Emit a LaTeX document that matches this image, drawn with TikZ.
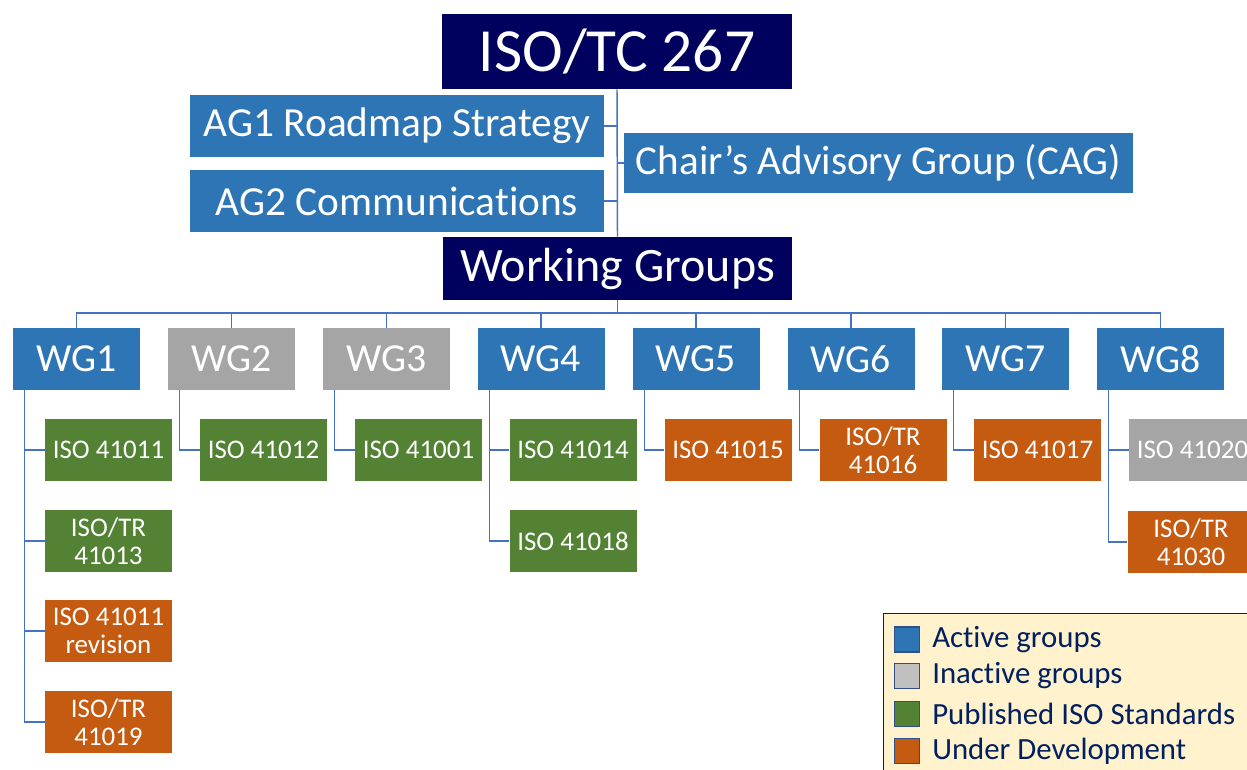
\documentclass[tikz,border=0pt]{standalone}
\usepackage{fontspec}
\setmainfont[Ligatures=NoCommon]{Carlito}
\definecolor{cblue}{HTML}{2E75B6}
\definecolor{cgrey}{HTML}{A5A5A5}
\definecolor{cgreen}{HTML}{548235}
\definecolor{corange}{HTML}{C55A11}
\definecolor{cnavy}{HTML}{00005E}
\definecolor{cline}{HTML}{4472C4}
\definecolor{clegbg}{HTML}{FFF2CC}
\definecolor{clegtx}{HTML}{002060}
\tikzset{
  box/.style={inner sep=0pt, text=white, align=center},
  topbox/.style={box, fill=cnavy, minimum width=350*0.75pt, minimum height=75*0.75pt, font=\fontsize{46}{50}\selectfont},
  wgsbox/.style={box, fill=cnavy, minimum width=349*0.75pt, minimum height=63*0.75pt, font=\fontsize{36}{40}\selectfont},
  agbox/.style={box, fill=cblue, minimum width=414*0.75pt, minimum height=62*0.75pt, font=\fontsize{31}{34}\selectfont},
  cagbox/.style={box, fill=cblue, minimum width=509*0.75pt, minimum height=60*0.75pt, font=\fontsize{30.8}{34}\selectfont},
  wgbox/.style={box, minimum width=127*0.75pt, minimum height=62*0.75pt, font=\fontsize{29.8}{33}\selectfont},
  stdbox/.style={box, minimum width=127*0.75pt, minimum height=62*0.75pt, font=\fontsize{20.2}{21}\selectfont},
  conn/.style={draw=cline, line width=1.1pt},
  swatch/.style={draw=cline!70!black, line width=0.8pt, minimum width=25*0.75pt, minimum height=25*0.75pt, inner sep=0pt},
  legtext/.style={anchor=west, inner sep=0pt, text=clegtx, font=\fontsize{23.1}{25}\selectfont},
}
\begin{document}
\begin{tikzpicture}[x=0.75pt, y=-0.75pt]
\useasboundingbox (0,0) rectangle (1247,769);
\clip (0,0) rectangle (1247,769);
\fill[white] (0,0) rectangle (1247,769);

% top
\node[topbox] (iso) at (617,51.5) {ISO/TC 267};
\node[agbox] (ag1) at (397,126) {AG1 Roadmap Strategy};
\node[agbox] (ag2) at (397,201) {AG2 Communications};
\node[cagbox] (cag) at (878.5,163) {Chair’s Advisory Group (CAG)};
\node[wgsbox] (wgs) at (617.5,268.5) {Working Groups};

\draw[conn] (iso.south) -- (wgs.north);
\draw[conn] (ag1.east) -- (ag1.east -| iso.south);
\draw[conn] (ag2.east) -- (ag2.east -| iso.south);
\draw[conn] (cag.west) -- (cag.west -| iso.south);

% working groups
\node[wgbox, fill=cblue] (wg1) at (76.5,359) {WG1};
\node[wgbox, fill=cgrey] (wg2) at (231.5,359) {WG2};
\node[wgbox, fill=cgrey] (wg3) at (386.5,359) {WG3};
\node[wgbox, fill=cblue] (wg4) at (541,359) {WG4};
\node[wgbox, fill=cblue] (wg5) at (696,359) {WG5};
\node[wgbox, fill=cblue] (wg6) at (851,359) {WG6};
\node[wgbox, fill=cblue] (wg7) at (1005.5,359) {WG7};
\node[wgbox, fill=cblue] (wg8) at (1160.5,359) {WG8};

\coordinate (bus) at (617.5,313);
\draw[conn] (wgs.south) -- (bus);
\draw[conn] (wg1.north) |- (bus) -| (wg8.north);
\foreach \w in {wg2,wg3,wg4,wg5,wg6,wg7}{
  \draw[conn] (\w.north) -- (\w.north |- bus);
}

% standards
\node[stdbox, fill=cgreen] (s11) at (108.5,450) {ISO 41011};
\node[stdbox, fill=cgreen] (s12) at (108.5,541) {ISO/TR\\41013};
\node[stdbox, fill=corange] (s13) at (108.5,631) {ISO 41011\\revision};
\node[stdbox, fill=corange] (s14) at (108.5,722) {ISO/TR\\41019};
\node[stdbox, fill=cgreen] (s21) at (263.5,450) {ISO 41012};
\node[stdbox, fill=cgreen] (s31) at (418.5,450) {ISO 41001};
\node[stdbox, fill=cgreen] (s41) at (573,450) {ISO 41014};
\node[stdbox, fill=cgreen] (s42) at (573,541) {ISO 41018};
\node[stdbox, fill=corange] (s51) at (728,450) {ISO 41015};
\node[stdbox, fill=corange] (s61) at (883,450) {ISO/TR\\41016};
\node[stdbox, fill=corange] (s71) at (1037.5,450) {ISO 41017};
\node[stdbox, fill=cgrey] (s81) at (1192.5,450) {ISO 41020};
\node[stdbox, fill=corange] (s82) at (1191,542) {ISO/TR\\41030};

\foreach \i in {1,...,8}{
  \coordinate (v\i) at ([xshift=9pt]wg\i.south west);
}
\draw[conn] (v1) |- (s14.west);
\foreach \s in {s11,s12,s13}{
  \draw[conn] (\s.west) -- (\s.west -| v1);
}
\draw[conn] (v2) |- (s21.west);
\draw[conn] (v3) |- (s31.west);
\draw[conn] (v4) |- (s42.west);
\draw[conn] (s41.west) -- (s41.west -| v4);
\draw[conn] (v5) |- (s51.west);
\draw[conn] (v6) |- (s61.west);
\draw[conn] (v7) |- (s71.west);
\draw[conn] (v8) |- (s82.west);
\draw[conn] (s81.west) -- (s81.west -| v8);

% legend
\node[draw=clegtx, fill=clegbg, line width=1pt, minimum width=380*0.75pt, minimum height=170*0.75pt, anchor=north west, inner sep=0pt] (leg) at (883,613) {};
\node[swatch, fill=cblue] (l1) at (907,639.5) {};
\node[swatch, fill=cgrey!70!white] (l2) at (907,676) {};
\node[swatch, fill=cgreen] (l3) at (907,714) {};
\node[swatch, fill=corange] (l4) at (907,751) {};
\node[legtext] (t1) at (932,639.5) {Active groups};
\node[legtext] (t2) at (932,676) {Inactive groups};
\node[legtext] (t3) at (932,714) {Published ISO Standards};
\node[legtext] (t4) at (932,751) {Under Development};
\end{tikzpicture}
\end{document}
